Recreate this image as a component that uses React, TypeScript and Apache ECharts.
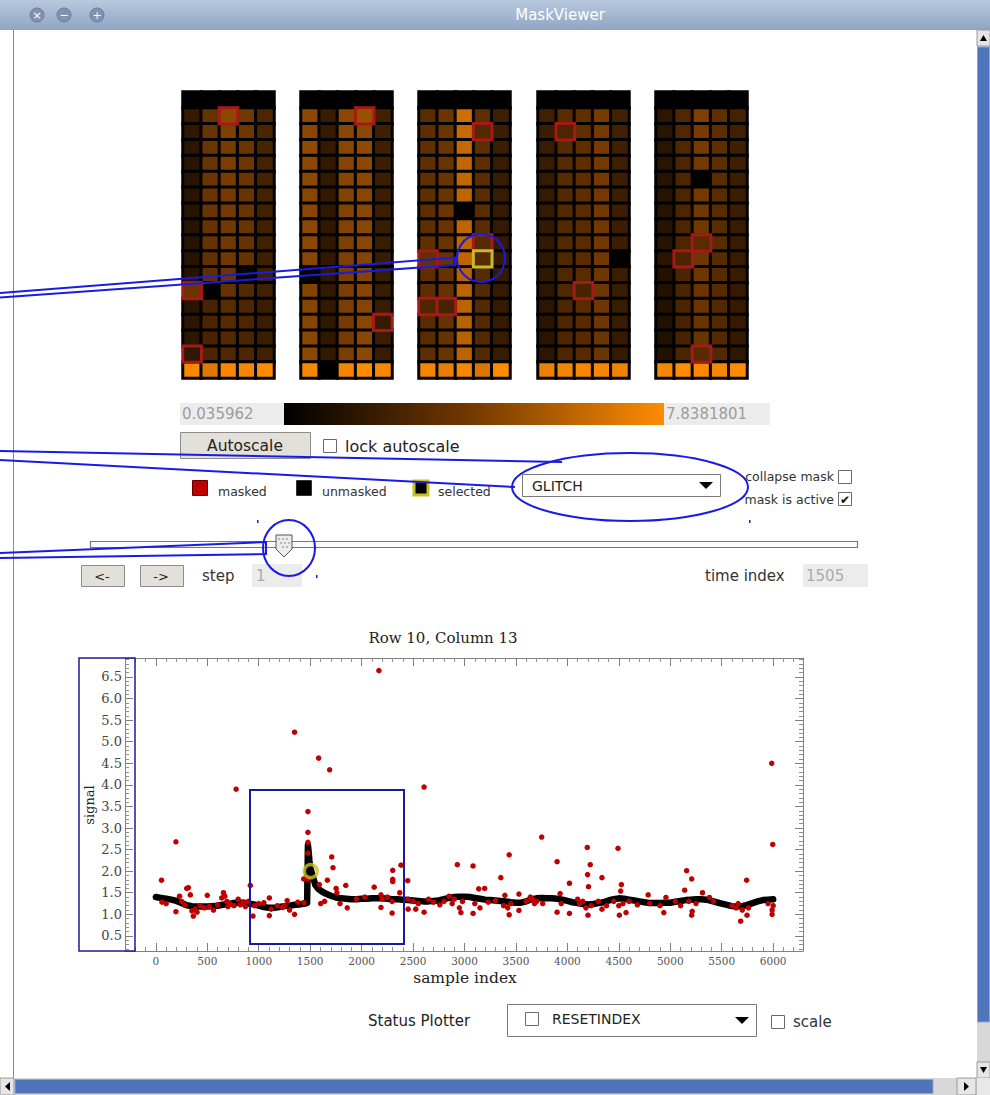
import React, { useEffect, useRef } from "react";
import * as echarts from "echarts";

// ---------------- data: detector mask panels ----------------
const COLOR_MIN = 0.035962;
const COLOR_MAX = 7.8381801;
const colormap = ["#000000", "#753a00", "#ff8c00"];
const rowLabels = ["0", "1", "2", "3", "4", "5", "6", "7", "8", "9", "10", "11", "12", "13", "14", "15", "16", "17"];
const panelColumnLabels = ["0", "1", "2", "3", "4"];
const panelLefts = [183, 301, 419, 538, 656];

const headerRowValues = [0.04, 0.04, 0.04, 0.04, 0.04, 0.04, 0.04, 0.04, 0.04, 0.04, 0.04, 0.04, 0.04, 0.04, 0.04, 0.04, 0.04, 0.04, 0.04, 0.04, 0.04, 0.04, 0.04, 0.04, 0.04];
const footerRowValues = [7.7, 6.9, 7.6, 7.6, 7.8, 7.6, 0.05, 7.5, 7.8, 7.6, 7.5, 7.2, 7.6, 6.8, 7.8, 7.3, 7.5, 7.6, 7.6, 7.4, 7.6, 7.8, 7.7, 7.6, 7.8];
// rows 1..16 for each of the 25 columns
const columnValues = [
  [1.8, 1.6, 1.5, 1.4, 1.4, 1.4, 1.3, 1.3, 1.3, 1.3, 1.3, 3.6, 1.4, 1.5, 1.5, 1.6],
  [3.4, 3.5, 3.6, 3.5, 3.6, 3.5, 3.5, 3.4, 3.4, 3.3, 3.2, 0.05, 2.4, 2.5, 2.4, 2.5],
  [4.6, 4.2, 4.0, 4.1, 4.0, 3.9, 3.9, 3.8, 3.8, 3.8, 3.6, 3.4, 3.0, 2.9, 2.8, 2.7],
  [3.8, 3.7, 3.6, 3.7, 3.6, 3.5, 3.5, 3.5, 3.4, 3.4, 0.3, 2.8, 2.6, 2.6, 2.5, 2.6],
  [2.6, 2.5, 2.4, 2.3, 2.3, 2.3, 2.2, 2.2, 2.2, 2.1, 2.1, 2.2, 2.0, 2.0, 2.0, 2.2],
  [4.6, 4.5, 4.7, 4.6, 4.6, 4.5, 4.5, 4.6, 4.6, 4.5, 0.3, 4.3, 4.4, 4.4, 4.5, 4.6],
  [1.9, 1.8, 1.8, 1.7, 1.7, 1.7, 1.6, 1.6, 1.6, 1.6, 1.6, 1.7, 1.7, 1.6, 1.6, 1.7],
  [4.6, 4.5, 4.5, 4.4, 4.4, 4.3, 4.3, 4.3, 4.2, 4.2, 4.1, 4.1, 4.1, 4.0, 4.0, 4.1],
  [5.0, 4.6, 4.7, 4.6, 4.6, 4.5, 4.5, 4.5, 4.5, 4.4, 4.4, 4.4, 4.4, 4.5, 4.5, 4.6],
  [2.2, 2.1, 2.1, 2.0, 2.0, 2.0, 2.0, 1.9, 1.9, 1.9, 1.9, 1.9, 1.9, 1.8, 2.0, 1.9],
  [3.0, 3.1, 3.2, 3.2, 3.2, 3.1, 3.1, 3.1, 3.2, 3.3, 3.1, 3.1, 2.6, 3.0, 3.0, 3.1],
  [3.6, 3.6, 3.6, 3.5, 3.5, 3.5, 3.6, 3.5, 3.5, 3.4, 3.4, 3.4, 2.4, 3.4, 3.4, 3.5],
  [6.4, 6.2, 6.2, 6.1, 6.1, 6.0, 0.1, 6.0, 6.0, 6.0, 5.9, 5.9, 5.9, 5.8, 5.8, 5.9],
  [3.2, 2.8, 3.1, 3.1, 3.0, 3.0, 3.0, 3.0, 2.9, 2.9, 2.9, 2.8, 2.8, 2.8, 2.8, 2.8],
  [2.1, 2.0, 2.0, 1.9, 1.9, 1.9, 1.8, 1.8, 1.8, 1.8, 1.8, 1.8, 1.8, 1.8, 1.9, 1.9],
  [2.2, 2.0, 1.9, 1.9, 1.8, 1.8, 1.8, 1.7, 1.7, 1.6, 1.6, 1.5, 1.5, 1.4, 1.4, 1.5],
  [3.0, 2.6, 2.9, 2.9, 2.9, 2.8, 2.8, 2.8, 2.8, 2.7, 2.7, 2.7, 2.6, 2.6, 2.6, 2.6],
  [3.2, 3.2, 3.1, 3.1, 3.1, 3.1, 3.0, 3.0, 3.0, 3.0, 3.0, 2.4, 3.0, 2.9, 2.9, 2.9],
  [4.0, 3.9, 4.0, 3.9, 3.9, 3.9, 3.8, 3.8, 3.8, 3.8, 3.7, 3.7, 3.7, 3.7, 3.6, 3.6],
  [2.2, 2.2, 2.1, 2.1, 2.0, 2.0, 2.0, 2.0, 2.0, 0.1, 2.0, 1.9, 1.9, 1.9, 1.8, 1.8],
  [1.5, 1.4, 1.4, 1.4, 1.3, 1.3, 1.3, 1.3, 1.3, 1.4, 1.2, 1.2, 1.2, 1.1, 1.1, 1.2],
  [2.7, 2.7, 2.7, 2.6, 2.6, 2.6, 2.6, 2.6, 2.6, 2.5, 2.5, 2.5, 2.5, 2.4, 2.4, 2.5],
  [4.2, 4.0, 4.0, 3.9, 0.1, 3.9, 3.8, 3.8, 3.0, 3.7, 3.7, 3.6, 3.6, 3.5, 3.5, 2.9],
  [3.2, 3.1, 3.1, 3.1, 3.0, 3.0, 3.0, 3.0, 3.0, 2.9, 2.9, 2.9, 2.8, 2.8, 2.8, 2.8],
  [2.3, 2.2, 2.1, 2.1, 2.0, 2.0, 2.0, 1.9, 1.9, 1.9, 1.9, 1.8, 1.8, 1.8, 1.7, 1.6],
];
// [column, row]
const maskedCells = [
  [2, 1], [0, 12], [0, 16], [8, 1], [9, 14], [13, 2], [13, 9], [10, 10], [10, 13], [11, 13],
  [16, 2], [17, 12], [22, 9], [21, 10], [22, 16],
];
const selectedCell = [13, 10];

// ---------------- data: signal trace ----------------
const bandSamples = [0, 50, 100, 150, 200, 250, 300, 350, 400, 450, 500, 550, 600, 650, 700, 750, 800, 850, 900, 950, 1000, 1050, 1100, 1150, 1200, 1250, 1300, 1350, 1400, 1450, 1470, 1478, 1485, 1492, 1500, 1510, 1520, 1535, 1550, 1575, 1600, 1650, 1700, 1750, 1800, 1850, 1900, 1950, 2000, 2050, 2100, 2150, 2200, 2250, 2300, 2350, 2400, 2450, 2500, 2550, 2600, 2650, 2700, 2750, 2800, 2850, 2900, 2950, 3000, 3050, 3100, 3150, 3200, 3250, 3300, 3350, 3400, 3450, 3500, 3550, 3600, 3650, 3700, 3750, 3800, 3850, 3900, 3950, 4000, 4050, 4100, 4150, 4200, 4250, 4300, 4350, 4400, 4450, 4500, 4550, 4600, 4650, 4700, 4750, 4800, 4850, 4900, 4950, 5000, 5050, 5100, 5150, 5200, 5250, 5300, 5350, 5400, 5450, 5500, 5550, 5600, 5650, 5700, 5750, 5800, 5850, 5900, 5950, 6000];
const bandSignal = [1.40, 1.38, 1.36, 1.34, 1.31, 1.26, 1.21, 1.19, 1.18, 1.18, 1.18, 1.19, 1.20, 1.22, 1.24, 1.26, 1.27, 1.27, 1.25, 1.23, 1.20, 1.17, 1.15, 1.15, 1.17, 1.19, 1.20, 1.22, 1.23, 1.25, 1.26, 2.60, 2.45, 2.25, 2.10, 2.00, 1.92, 1.80, 1.68, 1.60, 1.55, 1.48, 1.43, 1.39, 1.37, 1.36, 1.35, 1.35, 1.36, 1.36, 1.37, 1.37, 1.37, 1.36, 1.35, 1.35, 1.34, 1.33, 1.32, 1.31, 1.30, 1.30, 1.31, 1.32, 1.35, 1.38, 1.40, 1.41, 1.41, 1.40, 1.38, 1.36, 1.34, 1.33, 1.32, 1.31, 1.30, 1.28, 1.27, 1.27, 1.30, 1.35, 1.37, 1.38, 1.37, 1.37, 1.36, 1.34, 1.31, 1.28, 1.26, 1.24, 1.23, 1.24, 1.26, 1.28, 1.32, 1.35, 1.37, 1.36, 1.34, 1.32, 1.30, 1.28, 1.26, 1.26, 1.26, 1.27, 1.27, 1.29, 1.31, 1.33, 1.34, 1.35, 1.35, 1.34, 1.31, 1.28, 1.25, 1.22, 1.19, 1.18, 1.19, 1.22, 1.26, 1.30, 1.33, 1.34, 1.35];

const maskedPoints = [
  [55, 1.79], [60, 1.28], [100, 1.25], [195, 2.68], [195, 1.06], [230, 1.42], [250, 1.3], [280, 1.22], [300, 1.6], [316, 1.62],
  [335, 1.45], [350, 1.08], [364, 0.96], [380, 1.12], [400, 1.05], [430, 1.2], [470, 1.15], [500, 1.44], [520, 1.18], [560, 1.1],
  [600, 1.22], [640, 1.38], [657, 1.5], [670, 1.42], [690, 1.3], [700, 1.18], [720, 1.25], [760, 1.2], [780, 3.9], [800, 1.35],
  [820, 1.22], [850, 1.28], [870, 1.18], [900, 1.3], [918, 1.67], [944, 0.96], [960, 1.2], [1000, 1.25], [1050, 1.27], [1103, 1.38],
  [1103, 0.97], [1120, 1.12], [1180, 1.2], [1230, 1.16], [1250, 1.2], [1276, 1.32], [1300, 1.1], [1348, 1.0], [1348, 5.22], [1380, 1.28],
  [1439, 1.27], [1437, 1.82], [1478, 3.38], [1478, 2.9], [1478, 2.67], [1478, 2.42], [1482, 1.82], [1582, 4.62], [1589, 1.69], [1602, 1.25],
  [1640, 1.3], [1667, 1.79], [1689, 4.35], [1709, 2.33], [1722, 2.08], [1752, 1.6], [1760, 1.5], [1790, 1.25], [1846, 1.67], [1860, 1.15],
  [1950, 1.36], [2030, 1.4], [2122, 1.63], [2168, 6.65], [2188, 1.45], [2188, 1.16], [2200, 1.35], [2250, 1.4], [2296, 1.3], [2302, 2.02],
  [2302, 1.81], [2302, 1.76], [2296, 1.03], [2370, 1.5], [2383, 2.14], [2448, 1.78], [2452, 1.12], [2451, 1.35], [2500, 1.3], [2526, 1.12],
  [2550, 1.25], [2607, 3.95], [2607, 1.05], [2650, 1.35], [2700, 1.28], [2760, 1.22], [2800, 1.3], [2850, 1.42], [2880, 1.25], [2900, 1.35],
  [2930, 2.15], [2950, 1.15], [2965, 1.04], [2980, 1.3], [3083, 2.12], [3083, 1.02], [3100, 1.25], [3138, 1.59], [3150, 1.15], [3196, 1.6],
  [3230, 1.28], [3300, 1.32], [3353, 1.85], [3380, 1.2], [3392, 1.44], [3420, 1.15], [3434, 2.38], [3434, 0.99], [3450, 1.25], [3529, 1.47],
  [3529, 1.09], [3600, 1.3], [3640, 1.4], [3660, 1.35], [3680, 1.25], [3700, 1.3], [3750, 2.79], [3760, 1.25], [3900, 2.22], [3900, 1.05],
  [3929, 1.48], [3940, 1.25], [4020, 1.72], [4020, 1.02], [4100, 1.35], [4120, 1.25], [4150, 1.3], [4180, 1.15], [4193, 2.55], [4196, 1.92],
  [4205, 1.64], [4200, 0.98], [4222, 2.15], [4230, 1.2], [4300, 1.3], [4336, 1.85], [4336, 1.12], [4380, 1.2], [4450, 1.3], [4492, 2.53],
  [4500, 1.2], [4505, 0.98], [4518, 1.54], [4525, 1.69], [4540, 1.25], [4570, 1.04], [4600, 1.3], [4680, 1.22], [4785, 1.45], [4800, 1.25],
  [4900, 1.2], [4937, 1.04], [4958, 1.39], [5050, 1.3], [5100, 1.2], [5140, 1.56], [5159, 2.01], [5180, 1.3], [5208, 1.82], [5208, 0.98],
  [5213, 1.07], [5250, 1.25], [5313, 1.5], [5381, 1.39], [5420, 1.3], [5600, 1.2], [5640, 1.15], [5660, 1.25], [5684, 0.84], [5700, 1.1],
  [5742, 1.79], [5746, 0.98], [5760, 1.15], [5950, 1.25], [5986, 4.5], [5996, 2.62], [5990, 1.0], [5990, 1.1], [6000, 1.2],
];
const selectedPoint = [1505, 2.0];

const xTickMin = -300;
const xTickMax = 6290;
const yTickMin = 0.15;
const yTickMax = 6.94;

// ---------------- helpers ----------------
const SANS = '"DejaVu Sans", sans-serif';
const SERIF = '"DejaVu Serif", serif';
const BLUE = "#1a1ae6";

const rect = (x: number, y: number, w: number, h: number, style: any, z = 10) => ({
  type: "rect", shape: { x, y, width: w, height: h }, style, z, silent: true,
});
const text = (x: number, y: number, t: string, size: number, fill: string, align = "left", family = SANS, z = 10) => ({
  type: "text", x, y, style: { text: t, font: `${size}px ${family}`, fill, textAlign: align, textVerticalAlign: "middle" }, z, silent: true,
});
const line = (x1: number, y1: number, x2: number, y2: number, stroke: string, lw = 1, z = 10) => ({
  type: "line", shape: { x1, y1, x2, y2 }, style: { stroke, lineWidth: lw }, z, silent: true,
});
const poly = (points: number[][], style: any, z = 10) => ({ type: "polygon", shape: { points }, style, z, silent: true });
const checkbox = (x: number, y: number, s = 13) => rect(x, y, s, s, { fill: "#fff", stroke: "#6a6a6a", lineWidth: 1 });

function panelData(p: number) {
  const plain: any[] = [];
  const special: any[] = [];
  for (let c = 0; c < 5; c++) {
    const col = p * 5 + c;
    const vals = [headerRowValues[col], ...columnValues[col], footerRowValues[col]];
    vals.forEach((v, r) => {
      const masked = maskedCells.some(([mc, mr]) => mc === col && mr === r);
      const sel = selectedCell[0] === col && selectedCell[1] === r;
      if (sel) special.push({ value: [c, r, v], itemStyle: { borderColor: "#c8b82a", borderWidth: 3 } });
      else if (masked) special.push({ value: [c, r, v], itemStyle: { borderColor: "#a81818", borderWidth: 3 } });
      else plain.push([c, r, v]);
    });
  }
  return plain.concat(special);
}

function buildGraphics() {
  const g: any[] = [];
  // window title bar
  g.push(rect(0, 0, 990, 30, {
    fill: new echarts.graphic.LinearGradient(0, 0, 0, 1, [
      { offset: 0, color: "#b9c9dd" }, { offset: 1, color: "#8ea5c3" },
    ]),
  }));
  g.push(text(560, 15, "MaskViewer", 15, "#ffffff", "center"));
  [[37, "×"], [64, "−"], [97, "+"]].forEach(([cx, s]: any) => {
    g.push({ type: "circle", shape: { cx, cy: 15, r: 7 }, style: { fill: "#7f93ae", stroke: "#6b7f99", lineWidth: 1 }, z: 11, silent: true });
    g.push(text(cx, 15, s, 11, "#ffffff", "center", SANS, 12));
  });
  // left window border
  g.push(line(13.5, 30, 13.5, 1078, "#8a8a8a", 1));

  // right scrollbar
  g.push(rect(977, 30, 13, 1048, { fill: "#d8d8d8" }));
  g.push(rect(977, 30, 13, 16, { fill: "#e6e6e6", stroke: "#9a9a9a", lineWidth: 1 }));
  g.push(poly([[980, 41], [987, 41], [983.5, 35]], { fill: "#000" }, 11));
  g.push(rect(977.5, 47, 12, 975, { fill: "#4f74ba", stroke: "#8aa6d8", lineWidth: 1 }));
  g.push(rect(977, 1062, 13, 16, { fill: "#e6e6e6", stroke: "#9a9a9a", lineWidth: 1 }));
  g.push(poly([[980, 1067], [987, 1067], [983.5, 1073]], { fill: "#000" }, 11));
  // bottom scrollbar
  g.push(rect(0, 1078, 990, 17, { fill: "#d8d8d8" }));
  g.push(rect(0, 1078, 14, 17, { fill: "#e6e6e6", stroke: "#9a9a9a", lineWidth: 1 }));
  g.push(poly([[10, 1082], [10, 1091], [5, 1086.5]], { fill: "#000" }, 11));
  g.push(rect(15, 1079.5, 918, 14, { fill: "#4f74ba", stroke: "#8aa6d8", lineWidth: 1 }));
  g.push(rect(957, 1078, 19, 17, { fill: "#e6e6e6", stroke: "#9a9a9a", lineWidth: 1 }));
  g.push(poly([[964, 1082], [964, 1091], [969, 1086.5]], { fill: "#000" }, 11));
  g.push(rect(977, 1078, 13, 17, { fill: "#e8e8e8" }));

  // colour bar row
  g.push(rect(180, 403, 104, 22, { fill: "#ececec" }));
  g.push(text(182, 414, "0.035962", 15, "#9c9c9c"));
  g.push(rect(284, 403, 380, 22, {
    fill: new echarts.graphic.LinearGradient(0, 0, 1, 0, colormap.map((c, i) => ({ offset: i / (colormap.length - 1), color: c }))),
  }));
  g.push(rect(664, 403, 106, 22, { fill: "#ececec" }));
  g.push(text(666, 414, "7.8381801", 15, "#9c9c9c"));

  // autoscale
  g.push(rect(180.5, 432.5, 130, 26, { fill: "#e3dfd9", stroke: "#8c8c8c", lineWidth: 1 }));
  g.push(text(245, 446, "Autoscale", 15.5, "#222", "center"));
  g.push(checkbox(323.5, 439.5));
  g.push(text(345, 446, "lock autoscale", 16, "#222"));

  // legend
  g.push(rect(192.5, 480.5, 15, 15, { fill: "#c00000", stroke: "#5a0000", lineWidth: 1 }));
  g.push(text(218, 491, "masked", 12.5, "#333"));
  g.push(rect(296.5, 480.5, 15, 15, { fill: "#000", stroke: "#333", lineWidth: 1 }));
  g.push(text(322, 491, "unmasked", 12.5, "#333"));
  g.push(rect(414, 481, 14, 14, { fill: "#000", stroke: "#c8c01e", lineWidth: 3 }));
  g.push(text(438, 491, "selected", 12.5, "#333"));

  // GLITCH dropdown
  g.push(rect(522.5, 474.5, 198, 22, { fill: "#fff", stroke: "#7a7a7a", lineWidth: 1 }));
  g.push(text(532, 486, "GLITCH", 14, "#222"));
  g.push(poly([[699, 482], [713, 482], [706, 489]], { fill: "#000" }));
  g.push(text(834, 476, "collapse mask", 12.5, "#333", "right"));
  g.push(checkbox(838.5, 470.5));
  g.push(text(834, 499, "mask is active", 12.5, "#333", "right"));
  g.push(checkbox(838.5, 492.5));
  g.push(text(845, 499.5, "✔", 12, "#111", "center", SANS, 11));

  // slider
  g.push(rect(90.5, 541.5, 767, 6, { fill: "#fbfbfb", stroke: "#777", lineWidth: 1.2 }));
  g.push(poly([[276, 535], [292, 535], [292, 549], [284, 557], [276, 549]], { fill: "#ececec", stroke: "#555", lineWidth: 1 }, 11));
  [[279, 539], [283, 539], [287, 539], [281, 543], [285, 543], [289, 543], [283, 547], [287, 547]].forEach(([cx, cy]) =>
    g.push({ type: "circle", shape: { cx, cy, r: 0.7 }, style: { fill: "#666" }, z: 12, silent: true }));

  // step row
  g.push(rect(81.5, 565.5, 43, 21, { fill: "#e3dfd9", stroke: "#8c8c8c", lineWidth: 1 }));
  g.push(text(102, 576, "<-", 13, "#222", "center"));
  g.push(rect(140.5, 565.5, 43, 21, { fill: "#e3dfd9", stroke: "#8c8c8c", lineWidth: 1 }));
  g.push(text(161, 576, "->", 13, "#222", "center"));
  g.push(text(202, 576, "step", 15, "#333"));
  g.push(rect(252, 564, 50, 23, { fill: "#ececec" }));
  g.push(text(256, 576, "1", 15, "#aaa"));
  g.push(text(705, 576, "time index", 15, "#333"));
  g.push(rect(803, 564, 65, 23, { fill: "#ececec" }));
  g.push(text(806, 576, "1505", 15, "#aaa"));

  // scatter plot texts
  g.push(text(443, 638, "Row 10, Column 13", 15, "#222", "center", SERIF));
  g.push(text(465, 978, "sample index", 15.5, "#222", "center", SERIF));
  g.push({ type: "text", x: 89, y: 805, rotation: Math.PI / 2,
    style: { text: "signal", font: `13px ${SERIF}`, fill: "#222", textAlign: "center", textVerticalAlign: "middle" }, z: 10, silent: true });

  // status plotter row
  g.push(text(368, 1021, "Status Plotter", 15, "#222"));
  g.push(rect(507.5, 1004.5, 249, 32, { fill: "#fff", stroke: "#7a7a7a", lineWidth: 1 }));
  g.push(checkbox(525.5, 1012.5));
  g.push(text(552, 1019, "RESETINDEX", 14, "#222"));
  g.push(poly([[735, 1017], [749, 1017], [742, 1024]], { fill: "#000" }));
  g.push(checkbox(771.5, 1015.5));
  g.push(text(793, 1022, "scale", 15, "#333"));

  // blue annotations
  const bs = { stroke: BLUE, lineWidth: 2, fill: null };
  g.push({ type: "polyline", shape: { points: [[0, 293], [455, 257.5], [455, 265], [0, 297.5]] }, style: bs, z: 50, silent: true });
  g.push({ type: "circle", shape: { cx: 481, cy: 258, r: 24 }, style: bs, z: 50, silent: true });
  g.push({ type: "polyline", shape: { points: [[0, 451], [562, 462]] }, style: bs, z: 50, silent: true });
  g.push({ type: "polyline", shape: { points: [[0, 460], [515, 487]] }, style: bs, z: 50, silent: true });
  g.push({ type: "ellipse", shape: { cx: 630, cy: 487, rx: 118, ry: 34 }, style: bs, z: 50, silent: true });
  g.push({ type: "polyline", shape: { points: [[0, 553], [266, 542], [266, 554], [0, 558]] }, style: bs, z: 50, silent: true });
  g.push({ type: "ellipse", shape: { cx: 289, cy: 548, rx: 26, ry: 28 }, style: bs, z: 50, silent: true });
  g.push(rect(79, 658, 56, 293, { stroke: "#1a1aa0", lineWidth: 1.5, fill: null }, 50));
  g.push(rect(250, 790, 154, 154, { stroke: "#1a1aa0", lineWidth: 2, fill: null }, 50));
  [[257, 520], [316, 575], [749, 520]].forEach(([x, y]) => g.push(rect(x, y, 1.5, 3, { fill: BLUE }, 50)));
  return g;
}

const App = () => {
  const ref = useRef<HTMLDivElement>(null);
  useEffect(() => {
    if (!ref.current) return;
    const chart = echarts.init(ref.current, null, { renderer: "svg" });

    const grids: any[] = [];
    const xAxes: any[] = [];
    const yAxes: any[] = [];
    const series: any[] = [];
    panelLefts.forEach((left, p) => {
      grids.push({ left, top: 92, width: 91, height: 286, show: true, borderColor: "#6a6a6a", borderWidth: 1, backgroundColor: "#000" });
      xAxes.push({ gridIndex: p, type: "category", data: panelColumnLabels, show: false });
      yAxes.push({ gridIndex: p, type: "category", data: rowLabels, inverse: true, show: false });
      series.push({
        type: "heatmap", xAxisIndex: p, yAxisIndex: p, data: panelData(p),
        itemStyle: { borderColor: "#000", borderWidth: 3 }, emphasis: { disabled: true },
      });
    });

    // scatter plot grid
    grids.push({ left: 125, top: 658, width: 678, height: 293, show: false });
    const axisCommon = {
      gridIndex: 5, type: "value",
      axisLine: { show: true, onZero: false, lineStyle: { color: "#808080", width: 1 } },
      axisTick: { show: true, inside: true, length: 8, lineStyle: { color: "#808080" } },
      minorTick: { show: true, splitNumber: 5, length: 4, lineStyle: { color: "#909090" } },
      splitLine: { show: false },
    };
    const xCommon = { ...axisCommon, min: xTickMin, max: xTickMax, minInterval: 500, maxInterval: 500 };
    const yCommon = { ...axisCommon, min: yTickMin, max: yTickMax, minInterval: 0.5, maxInterval: 0.5 };
    xAxes.push({
      ...xCommon, position: "bottom",
      axisLabel: { fontFamily: "DejaVu Serif", fontSize: 10.5, color: "#555", margin: 4, showMinLabel: false, showMaxLabel: false,
        formatter: (v: number) => String(Math.round(v)) },
    });
    xAxes.push({ ...xCommon, position: "top", axisLabel: { show: false } });
    yAxes.push({
      ...yCommon, position: "left",
      axisLabel: { fontFamily: "DejaVu Serif", fontSize: 13, color: "#444", margin: 3, showMinLabel: false, showMaxLabel: false,
        formatter: (v: number) => v.toFixed(1) },
    });
    yAxes.push({ ...yCommon, position: "right", axisLabel: { show: false } });

    series.push({
      type: "line", xAxisIndex: 5, yAxisIndex: 5, symbol: "none", z: 2,
      data: bandSamples.map((s, i) => [s, bandSignal[i]]),
      lineStyle: { color: "#000", width: 6.5, join: "round", cap: "round" },
      emphasis: { disabled: true },
    });
    series.push({
      type: "scatter", xAxisIndex: 5, yAxisIndex: 5, z: 3, symbol: "circle", symbolSize: 5.5,
      data: maskedPoints, itemStyle: { color: "#c00000", opacity: 1 }, emphasis: { disabled: true },
    });
    series.push({
      type: "scatter", xAxisIndex: 5, yAxisIndex: 5, z: 4, symbol: "circle", symbolSize: 13,
      data: [selectedPoint],
      itemStyle: { color: "rgba(0,0,0,0)", borderColor: "#c9c21e", borderWidth: 3.5 }, emphasis: { disabled: true },
    });

    chart.setOption({
      animation: false,
      backgroundColor: "#ffffff",
      grid: grids,
      xAxis: xAxes,
      yAxis: yAxes,
      visualMap: {
        type: "continuous", show: false, min: COLOR_MIN, max: COLOR_MAX, dimension: 2,
        seriesIndex: [0, 1, 2, 3, 4], inRange: { color: colormap },
      },
      series,
      graphic: { elements: buildGraphics() },
    });
    return () => chart.dispose();
  }, []);
  return <div ref={ref} style={{ position: "fixed", left: 0, top: 0, width: 990, height: 1095, background: "#fff" }} />;
};

export default App;
